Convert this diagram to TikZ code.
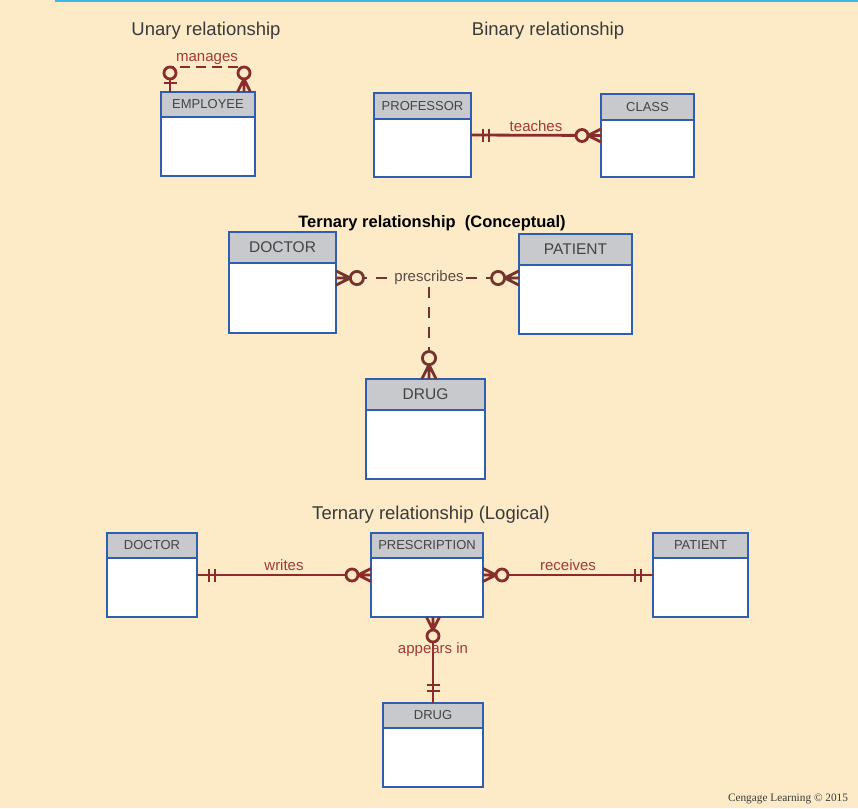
\documentclass[tikz,border=0pt]{standalone}
\usepackage{fontspec}
\setmainfont{Liberation Sans}
\newfontfamily\creditfont{Liberation Serif}

\definecolor{bg}{HTML}{FCEBC6}
\definecolor{topblue}{HTML}{3DB5E6}
\definecolor{boxblue}{HTML}{2F5DB0}
\definecolor{headgrey}{HTML}{C8C9CC}
\definecolor{headtext}{HTML}{444444}
\definecolor{relred}{HTML}{8A2C2C}
\definecolor{relbrown}{HTML}{73332E}
\definecolor{labelred}{HTML}{A03A3A}
\definecolor{labelgrey}{HTML}{5A4D48}
\definecolor{titlegrey}{HTML}{3A3A3A}

\begin{document}
\begin{tikzpicture}[x=1pt, y=-1pt,
  entity/.style={draw=boxblue, fill=white, line width=2pt, inner sep=0pt, outer sep=0pt, anchor=north west},
  head/.style={entity, fill=headgrey, text=headtext, font=\fontsize{13}{14}\selectfont},
  bighead/.style={head, font=\fontsize{15.5}{17}\selectfont},
  title/.style={anchor=base, text=titlegrey, font=\fontsize{18.5}{20}\selectfont},
  rel/.style={draw=relred, line width=2.8pt},
  crel/.style={draw=relbrown, line width=2.8pt, dash pattern=on 11pt off 9pt},
  rellabel/.style={text=labelred, font=\fontsize{15}{16}\selectfont, inner sep=2.5pt},
  endmark/.style={color=relred, line width=2.8pt},
  cendmark/.style={color=relbrown, line width=2.8pt, scale=1.1},
  zeromany/.pic={
    \draw[line join=round] (0,0) -- (13,0) (0,-6.5) -- (13,0) -- (0,6.5);
    \draw[fill=bg] (19,0) circle (6pt);
  },
  onlyone/.pic={
    \draw (0,0) -- (24,0) (12,-6.5) -- (12,6.5) (18,-6.5) -- (18,6.5);
  },
  zeroone/.pic={
    \draw (0,0) -- (13,0) (9,-6.5) -- (9,6.5);
    \draw[fill=bg] (19,0) circle (6pt);
  }]
  % page and top rule
  \useasboundingbox (0,0) rectangle (858,808);
  \fill[bg] (0,0) rectangle (858,808);
  \fill[topblue] (55,0) rectangle (858,2.5);

  % titles
  \node[title] (unary) at (206,36) {Unary relationship};
  \node[title] (binary) at (548,36) {Binary relationship};
  \node[title, text=black, font=\bfseries\fontsize{16.5}{18}\selectfont] (concept) at (432,227) {Ternary relationship\ \ (Conceptual)};
  \node[title] (logic) at (431,519) {Ternary relationship (Logical)};

  % unary: employee manages employee
  \node[entity, minimum width=94pt, minimum height=84pt] (emp) at (161,92) {};
  \node[head, minimum width=94pt, minimum height=25pt] (emp head) at (emp.north west) {EMPLOYEE};
  \coordinate (mgl) at ([xshift=9pt]emp.north west);
  \coordinate (mgr) at ([xshift=83pt]emp.north west);
  \draw[rel, dash pattern=on 10pt off 6pt] ([yshift=19pt]mgl) -- ([yshift=25pt]mgl) -- ([yshift=25pt]mgr)
    node[midway, above, rellabel, inner sep=1pt] {manages} -- ([yshift=19pt]mgr);
  \pic[endmark, rotate=90] at (mgl) {zeroone};
  \pic[endmark, rotate=90] at (mgr) {zeromany};

  % binary: professor teaches class
  \node[entity, minimum width=97pt, minimum height=84pt] (prof) at (374,93) {};
  \node[head, minimum width=97pt, minimum height=26pt] (prof head) at (prof.north west) {PROFESSOR};
  \node[entity, minimum width=93pt, minimum height=83pt] (class) at (601,94) {};
  \node[head, minimum width=93pt, minimum height=26pt] (class head) at (class.north west) {CLASS};
  \draw[rel] (prof.east) -- (class.west) node[midway, above, rellabel] {teaches};
  \pic[endmark] at (prof.east) {onlyone};
  \pic[endmark, rotate=180] at (class.west) {zeromany};

  % ternary, conceptual
  \node[entity, minimum width=107pt, minimum height=101pt] (cdoc) at (229,232) {};
  \node[bighead, minimum width=107pt, minimum height=31pt] (cdoc head) at (cdoc.north west) {DOCTOR};
  \node[entity, minimum width=113pt, minimum height=100pt] (cpat) at (519,234) {};
  \node[bighead, minimum width=113pt, minimum height=31pt] (cpat head) at (cpat.north west) {PATIENT};
  \node[entity, minimum width=119pt, minimum height=100pt] (cdrug) at (366,379) {};
  \node[bighead, minimum width=119pt, minimum height=31pt] (cdrug head) at (cdrug.north west) {DRUG};
  \node[rellabel, text=labelgrey, inner sep=2pt] (prescribes) at (429,278) {prescribes};
  \draw[crel] (cdoc.east |- prescribes) -- (prescribes.west);
  \draw[crel] (prescribes.east) -- (cpat.west |- prescribes);
  \draw[crel] (prescribes.south) -- (prescribes.south |- cdrug.north);
  \pic[cendmark] at (cdoc.east |- prescribes) {zeromany};
  \pic[cendmark, rotate=180] at (cpat.west |- prescribes) {zeromany};
  \pic[cendmark, rotate=90] at (prescribes.south |- cdrug.north) {zeromany};

  % ternary, logical
  \node[entity, minimum width=90pt, minimum height=84pt] (ldoc) at (107,533) {};
  \node[head, minimum width=90pt, minimum height=25pt] (ldoc head) at (ldoc.north west) {DOCTOR};
  \node[entity, minimum width=112pt, minimum height=84pt] (presc) at (371,533) {};
  \node[head, minimum width=112pt, minimum height=25pt] (presc head) at (presc.north west) {PRESCRIPTION};
  \node[entity, minimum width=95pt, minimum height=84pt] (lpat) at (653,533) {};
  \node[head, minimum width=95pt, minimum height=25pt] (lpat head) at (lpat.north west) {PATIENT};
  \node[entity, minimum width=100pt, minimum height=84pt] (ldrug) at (383,703) {};
  \node[head, minimum width=100pt, minimum height=25pt] (ldrug head) at (ldrug.north west) {DRUG};
  \draw[rel] (ldoc.east) -- (presc.west) node[midway, above, rellabel] {writes};
  \draw[rel] (presc.east) -- (lpat.west) node[midway, above, rellabel] {receives};
  \draw[rel] (ldrug.north) -- (ldrug.north |- presc.south) node[pos=0.57, anchor=base, rellabel] {appears in};
  \pic[endmark] at (ldoc.east) {onlyone};
  \pic[endmark, rotate=180] at (presc.west) {zeromany};
  \pic[endmark] at (presc.east) {zeromany};
  \pic[endmark, rotate=180] at (lpat.west) {onlyone};
  \pic[endmark, rotate=-90] at (ldrug.north |- presc.south) {zeromany};
  \pic[endmark, rotate=90] at (ldrug.north) {onlyone};

  % credit line
  \node[anchor=base, text=titlegrey, font=\creditfont\fontsize{11.3}{12}\selectfont] (credit) at (788,801) {Cengage Learning © 2015};
\end{tikzpicture}
\end{document}
